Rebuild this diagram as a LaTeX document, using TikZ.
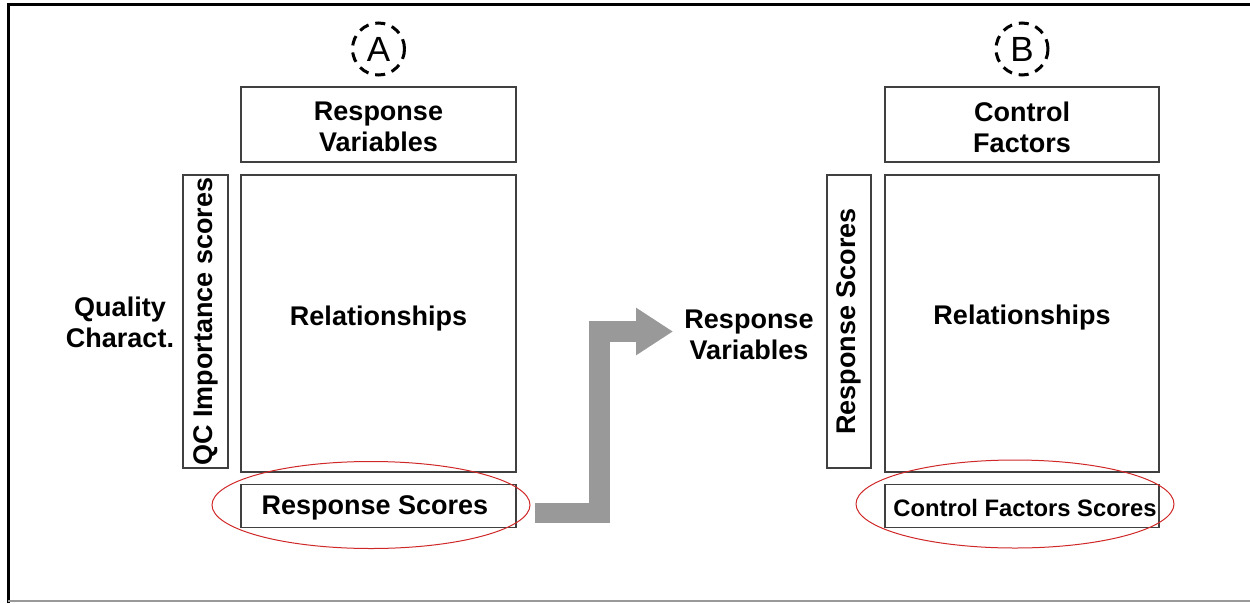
\documentclass[tikz,border=0pt]{standalone}
\usepackage{fontspec}
\setmainfont{Liberation Sans}
\usepackage{tikz}
\usetikzlibrary{arrows.meta,shapes.geometric}
\definecolor{fline}{HTML}{404040}
\definecolor{fgray}{HTML}{999999}
\definecolor{fred}{HTML}{D02828}
\tikzset{
  box/.style      = {draw=fline, line width=1.4pt, rectangle, inner sep=0pt,
                     align=center, font=\bfseries\fontsize{27}{31}\selectfont},
  plain/.style    = {align=center, font=\bfseries\fontsize{27}{31}\selectfont},
  tag/.style      = {draw, circle, line width=3pt, dash pattern=on 10pt off 7pt,
                     inner sep=0pt, minimum size=52pt,
                     font=\fontsize{35}{35}\selectfont},
  ring/.style     = {draw=fred, line width=1pt, ellipse, inner sep=0pt},
  bigarrow/.style = {fgray, line width=20.5pt, line join=miter,
                     -{Triangle[length=37pt,width=45pt]}},
}

\begin{document}
\begin{tikzpicture}[x=1pt,y=-1pt]
\useasboundingbox (0,0) rectangle (1250,603);
% frame
\draw[line width=3pt] (8,603) -- (8,4) -- (1250,4);
\draw[fgray,line width=2pt] (8,601) -- (1250,601);
% house A: quality characteristics -> response variables
\node[tag] (tagA) at (378.5,49) {A};
\node[box,minimum width=275pt,minimum height=75pt] (respA) at (378.5,124.5) {};
\node[plain] at (378.5,127) {Response\\Variables};
\node[box,minimum width=275pt,minimum height=297pt] (relA) at (378.5,323.5) {};
\node[plain] at (378.5,319) {Relationships};
\node[box,rotate=90,minimum width=293pt,minimum height=45pt] (qcA) at (205.5,321.5) {QC Importance scores};
\node[plain] (qualA) at (120,322) {Quality\\Charact.};
\node[box,minimum width=275pt,minimum height=43pt] (scoreA) at (378.5,506) {};
\node[plain] at (375,508) {Response Scores};
\node[ring,minimum width=318pt,minimum height=87pt] (ringA) at (371,505) {};
% scores of A feed the rows of B
\coordinate (bendfrom) at (535,513);
\coordinate (bendto) at (673,331.5);
\draw[bigarrow] (bendfrom) -- (599.5,513) -- (599.5,331.5) -- (bendto);
\node[plain] (midvar) at (749,335) {Response\\Variables};
% house B: response variables -> control factors
\node[tag] (tagB) at (1022,49) {B};
\node[box,minimum width=274pt,minimum height=75pt] (ctrlB) at (1022,124.5) {};
\node[plain] at (1022,127) {Control\\Factors};
\node[box,minimum width=274pt,minimum height=297pt] (relB) at (1022,323.5) {};
\node[plain] at (1022,318) {Relationships};
\node[box,rotate=90,minimum width=293pt,minimum height=44pt] (rsB) at (849,321.5) {Response Scores};
\node[box,minimum width=274pt,minimum height=43pt] (scoreB) at (1022,506) {};
\node[plain,font=\bfseries\fontsize{23.8}{26}\selectfont] at (1025,508) {Control Factors Scores};
\node[ring,minimum width=318pt,minimum height=88pt] (ringB) at (1015,504) {};
\end{tikzpicture}
\end{document}
